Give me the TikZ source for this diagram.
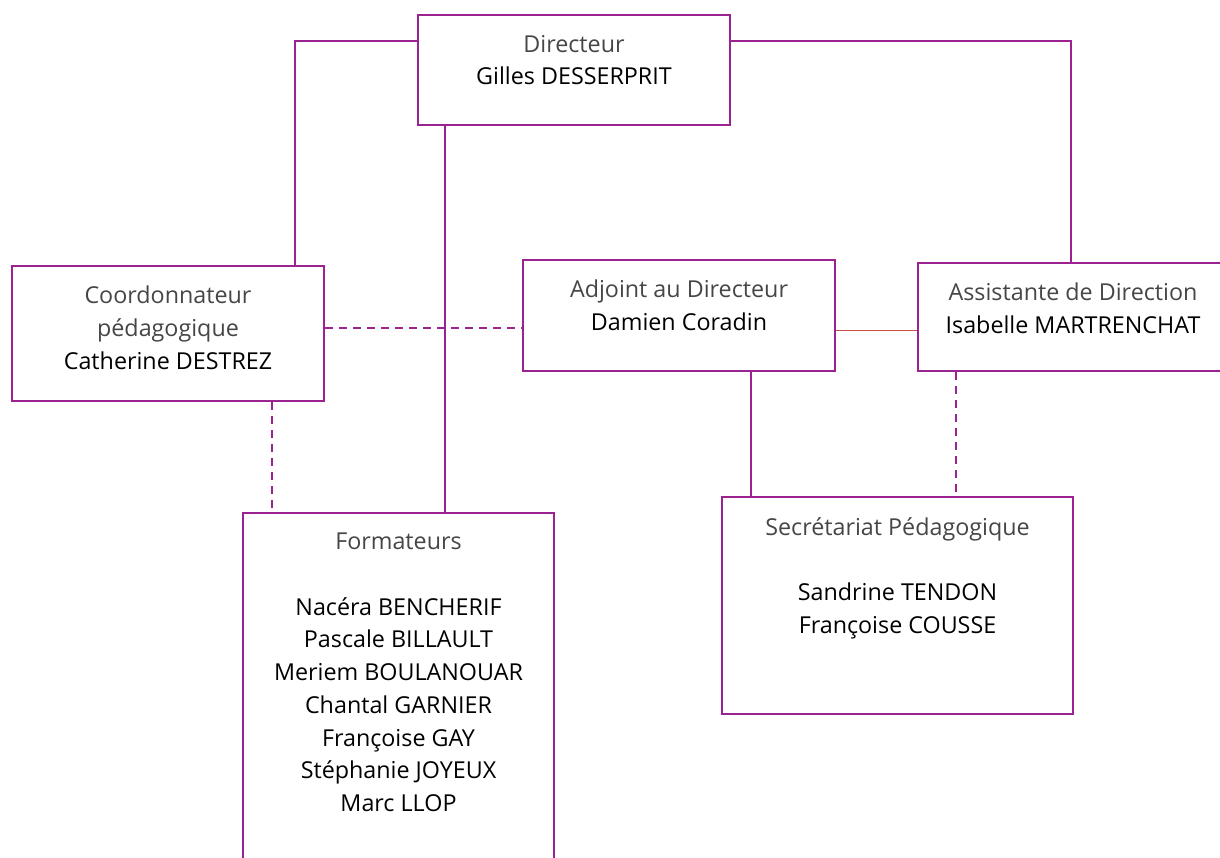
\documentclass[tikz,border=0pt]{standalone}
\usepackage{fontspec}
\setmainfont{Open Sans}
\definecolor{violet}{RGB}{155,35,145}
\definecolor{rouge}{RGB}{200,80,70}
\definecolor{titre}{RGB}{70,70,70}
\begin{document}
\begin{tikzpicture}[
    x=1pt, y=-1pt,
    font=\fontsize{23.3}{32.7}\selectfont,
    box/.style={draw=violet, line width=2pt, inner sep=0pt, fill=white},
    txt/.style={anchor=north, yshift=-21pt, align=center, inner sep=0pt},
    lien/.style={draw=violet, line width=2pt},
    pointille/.style={lien, dash pattern=on 8pt off 6pt},
    lienrouge/.style={draw=rouge, line width=1.5pt}
]
\useasboundingbox (0,0) rectangle (1220,858);
\clip (0,0) rectangle (1220,858);

% Cadres
\node[box, minimum width=312pt, minimum height=110pt,
      label={[txt]north:{\color{titre}Directeur}\\Gilles DESSERPRIT}] (dir) at (574,70) {};
\node[box, minimum width=312pt, minimum height=135pt,
      label={[txt]north:{\color{titre}Coordonnateur}\\{\color{titre}pédagogique}\\Catherine DESTREZ}] (coord) at (168,333.5) {};
\node[box, minimum width=312pt, minimum height=111pt,
      label={[txt]north:{\color{titre}Adjoint au Directeur}\\Damien Coradin}] (adj) at (679,315.5) {};
\node[box, minimum width=310pt, minimum height=108pt,
      label={[txt]north:{\color{titre}Assistante de Direction}\\Isabelle MARTRENCHAT}] (asst) at (1073,317) {};
\node[box, minimum width=311pt, minimum height=367pt,
      label={[txt]north:{\color{titre}Formateurs}\\[32.7pt]Nacéra BENCHERIF\\Pascale BILLAULT\\Meriem BOULANOUAR\\Chantal GARNIER\\Françoise GAY\\Stéphanie JOYEUX\\Marc LLOP}] (form) at (398.5,696.5) {};
\node[box, minimum width=351pt, minimum height=217pt,
      label={[txt]north:{\color{titre}Secrétariat Pédagogique}\\[32.7pt]Sandrine TENDON\\Françoise COUSSE}] (sec) at (897.5,605.5) {};

% Liens hierarchiques
\draw[lien] ([yshift=29pt]dir.west) -| ([xshift=127pt]coord.north);
\draw[lien] ([yshift=29pt]dir.east) -| ([xshift=-2pt]asst.north);
\draw[lien] ([xshift=-129pt]dir.south) -- ([xshift=-129pt]dir.south |- form.north);
\draw[lien] ([xshift=72pt]adj.south) -- ([xshift=72pt]adj.south |- sec.north);

% Liens fonctionnels
\draw[pointille] ([yshift=5pt]coord.east) -- ([yshift=5pt]coord.east -| adj.west);
\draw[pointille] ([xshift=104pt]coord.south) -- ([xshift=104pt]coord.south |- form.north);
\draw[pointille] ([xshift=-117pt]asst.south) -- ([xshift=-117pt]asst.south |- sec.north);
\draw[lienrouge] ([yshift=-15pt]adj.east) -- ([yshift=-15pt]adj.east -| asst.west);

\end{tikzpicture}
\end{document}
